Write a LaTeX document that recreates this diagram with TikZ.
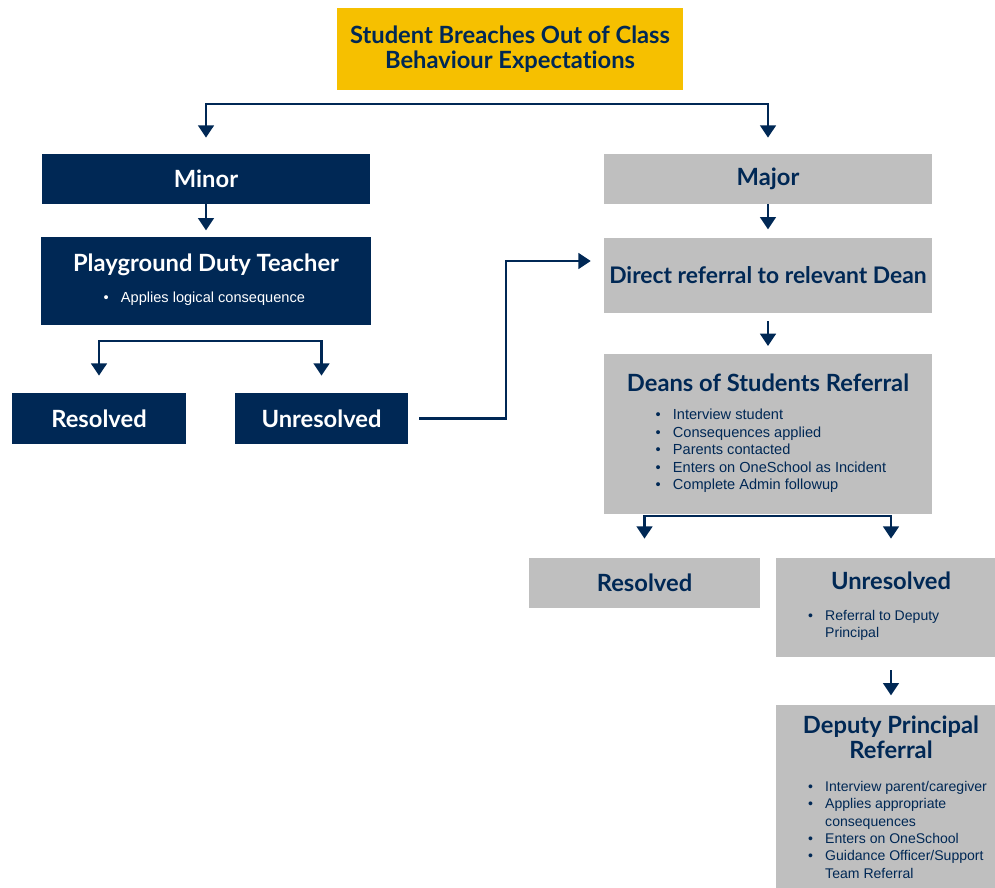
\documentclass[tikz,border=0pt]{standalone}
\usepackage{fontspec}
\setmainfont{Liberation Sans}
\newfontfamily\headfont[Ligatures=NoCommon]{Lato}
\usetikzlibrary{arrows.meta,positioning}

\definecolor{navy}{RGB}{0,40,85}
\definecolor{gold}{RGB}{246,192,0}
\definecolor{lightgrey}{RGB}{191,191,191}

\newcommand{\headtext}{\headfont\bfseries\fontsize{13.5}{14.5}\selectfont}
\newcommand{\bulletlist}[3][8.3]{\makebox[#2][l]{\normalfont\fontsize{#1}{9.9}\selectfont\begin{tabular}[t]{@{}l@{\hspace{7pt}}l@{}}#3\end{tabular}}}

\begin{document}
\begin{tikzpicture}[x=0.02cm, y=-0.02cm]
  \tikzstyle{title} = [rectangle, minimum width=6.92cm, minimum height=1.64cm, align=center, fill=gold, text=navy, font=\headtext]
  \tikzstyle{navyrect} = [rectangle, inner sep=2pt, align=center, fill=navy, text=white, font=\headtext]
  \tikzstyle{greyrect} = [rectangle, inner sep=2pt, align=center, fill=lightgrey, text=navy, font=\headtext]
  \tikzstyle{arrow} = [draw=navy, line width=1.2pt, -{Triangle[width=9pt,length=7pt]}]
  \tikzstyle{fork} = [draw=navy, line width=1.2pt, {Triangle[width=9pt,length=7pt]}-{Triangle[width=9pt,length=7pt]}]

  \useasboundingbox (0,0) rectangle (995,888);
  \clip (0,0) rectangle (995,888);

  \node (breach) [title] at (510,49) {Student Breaches Out of Class\\Behaviour Expectations};

  % minor side
  \node (minor) [navyrect, minimum width=6.56cm, minimum height=1cm] at (206,179) {Minor};
  \node (duty) [navyrect, minimum width=6.6cm, minimum height=1.76cm, below=0.64cm of minor] {Playground Duty Teacher\\[3pt]\bulletlist{4.1cm}{\textbullet & Applies logical consequence}};
  \node (resl) [navyrect, minimum width=3.48cm, minimum height=1.02cm] at (99,418.5) {Resolved};
  \node (unresl) [navyrect, minimum width=3.46cm, minimum height=1.02cm] at (321.5,418.5) {Unresolved};

  % major side
  \node (major) [greyrect, minimum width=6.56cm, minimum height=1cm] at (768,179) {Major};
  \node (direct) [greyrect, minimum width=6.56cm, minimum height=1.5cm, below=0.66cm of major, font=\headfont\bfseries\fontsize{13}{14.5}\selectfont] {Direct referral to relevant Dean};
  \node (deans) [greyrect, minimum width=6.58cm, minimum height=3.2cm, below=0.82cm of direct] {Deans of Students Referral\\[1.5pt]\bulletlist{4.5cm}{\textbullet & Interview student\\ \textbullet & Consequences applied\\ \textbullet & Parents contacted\\ \textbullet & Enters on OneSchool as Incident\\ \textbullet & Complete Admin followup}};
  \node (resr) [greyrect, minimum width=4.62cm, minimum height=1cm] at (644.5,583) {Resolved};
  \node (unresr) [greyrect, minimum width=4.6cm, minimum height=1.98cm] at (891,607.5) {Unresolved\\[3pt]\bulletlist[8]{3.32cm}{\textbullet & Referral to Deputy\\ & Principal}};
  \node (deputy) [greyrect, minimum width=4.6cm, minimum height=3.8cm, below=0.94cm of unresr] {Deputy Principal\\Referral\\[4pt]\bulletlist[8]{3.32cm}{\textbullet & Interview parent/caregiver\\ \textbullet & Applies appropriate\\ & consequences\\ \textbullet & Enters on OneSchool\\ \textbullet & Guidance Officer/Support\\ & Team Referral}};

  % connectors
  \coordinate (topbar) at (500,104);
  \draw [fork, shorten <=0.32cm, shorten >=0.32cm] (minor.north) |- (topbar) -| (major.north);
  \draw [arrow, shorten >=0.12cm] (minor) -- (duty);
  \coordinate (dutybar) at (200,341);
  \draw [fork, shorten <=0.34cm, shorten >=0.34cm] (resl.north) |- (dutybar) -| (unresl.north);
  \coordinate (jog) at (506,261);
  \draw [arrow, shorten <=0.22cm, shorten >=0.26cm] (unresl) -| (jog) -- (jog -| direct.west);
  \draw [arrow, shorten >=0.16cm] (major) -- (direct);
  \draw [arrow, shorten <=0.16cm, shorten >=0.16cm] (direct) -- (deans);
  \coordinate (deansbar) at (760,516);
  \draw [fork, shorten <=0.38cm, shorten >=0.38cm] (resr.north) |- (deansbar) -| (unresr.north);
  \draw [arrow, shorten <=0.26cm, shorten >=0.18cm] (unresr) -- (deputy);
\end{tikzpicture}
\end{document}
